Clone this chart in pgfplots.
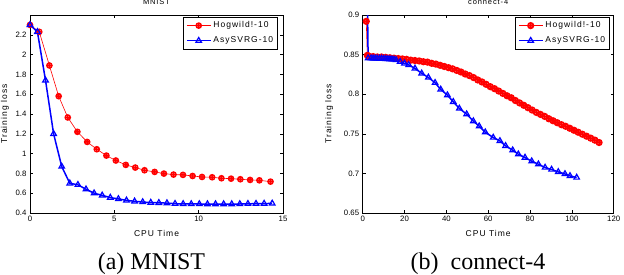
\documentclass[border=0pt]{standalone}
\usepackage{fontspec}
\setmainfont{Liberation Sans}
\newfontfamily\capfont{Liberation Serif}
\newfontfamily\mfont[LetterSpace=12]{Liberation Sans}
\usepackage{pgfplots}
\pgfplotsset{compat=1.18}

\pgfplotsset{mat/.style={
  scale only axis, width=253pt, height=198pt,
  axis line style={line width=0.7pt}, tick style={line width=0.6pt, black}, major tick length=3pt,
  /pgf/number format/assume math mode=true,
  ticklabel style={font=\fontsize{7.8}{8}\selectfont},
  xlabel style={font=\mfont\fontsize{8.5}{9}\selectfont, at={(axis description cs:0.5,-0.1035)}, anchor=center},
  title style={font=\mfont\fontsize{7.5}{8}\selectfont, at={(axis description cs:0.5,1.036)}, anchor=center},
  legend style={font=\mfont\fontsize{8.5}{9}\selectfont, cells={anchor=west}, inner sep=2.5pt, row sep=3.5pt, draw=black, line width=0.6pt},
  legend image code/.code={\draw[mark repeat=2, mark phase=2, #1] plot coordinates {(0cm,0cm) (0.42cm,0cm) (0.84cm,0cm)};},
  redst/.style={color=red, line width=0.6pt, mark=oplus, mark size=2.6pt, mark options={line width=1.4pt, solid}},
  bluest/.style={color=blue, line width=1.5pt, mark=triangle, mark size=3.2pt, mark options={line width=1.2pt, fill=white, solid}},
}}

\begin{document}
\begin{tikzpicture}
\useasboundingbox (0pt,0pt) rectangle (624pt,274pt);

\begin{axis}[mat, at={(30pt,61pt)}, anchor=south west,
  xmin=0, xmax=15, ymin=0.4, ymax=2.4,
  xtick={0,5,10,15}, ytick={0.4,0.6,0.8,1,1.2,1.4,1.6,1.8,2,2.2},
  title={MNIST}, xlabel={CPU Time}, ylabel={Training loss},
  ylabel style={font=\mfont\fontsize{8.5}{9}\selectfont, at={(axis description cs:-0.099,0.5)}, anchor=center},
  legend style={at={(0.98,0.99)}, anchor=north east}]
\addplot[redst] coordinates {
(0,2.3) (0.55,2.23) (1.15,1.89) (1.70,1.58) (2.24,1.365) (2.81,1.22) (3.39,1.118)
(3.96,1.044) (4.53,0.98) (5.09,0.93) (5.68,0.886) (6.24,0.859) (6.79,0.832)
(7.39,0.815) (7.94,0.798) (8.51,0.788) (9.07,0.785) (9.64,0.774) (10.2,0.764)
(10.8,0.761) (11.35,0.751) (11.92,0.747) (12.47,0.741) (13.05,0.734) (13.6,0.73) (14.26,0.717)};
\addlegendentry{Hogwild!-10}
\addplot[bluest] coordinates {
(0,2.3) (0.44,2.23) (0.92,1.74) (1.40,1.20) (1.88,0.87) (2.36,0.70) (2.84,0.685)
(3.32,0.64) (3.80,0.60) (4.28,0.578) (4.76,0.556) (5.24,0.542) (5.72,0.528)
(6.20,0.518) (6.68,0.511) (7.16,0.505) (7.64,0.503) (8.12,0.500) (8.60,0.494)
(9.08,0.492) (9.56,0.491) (10.04,0.491) (10.52,0.490) (11.00,0.490) (11.48,0.490)
(11.96,0.490) (12.44,0.491) (12.92,0.493) (13.40,0.494) (13.88,0.495) (14.36,0.497)};
\addlegendentry{AsySVRG-10}
\end{axis}

\begin{axis}[mat, at={(362.7pt,61pt)}, anchor=south west, width=251pt,
  xmin=0, xmax=120, ymin=0.65, ymax=0.9,
  xtick={0,20,40,60,80,100,120}, ytick={0.65,0.7,0.75,0.8,0.85,0.9},
  title={connect-4}, xlabel={CPU Time}, ylabel={Training loss},
  ylabel style={font=\mfont\fontsize{8.5}{9}\selectfont, at={(axis description cs:-0.134,0.5)}, anchor=center},
  legend style={at={(0.985,0.99)}, anchor=north east}]
\addplot[redst, mark size=2.8pt, mark options={line width=1.6pt}] coordinates {
(1.7,0.892) (2.2,0.849) (3,0.848) (5,0.8475) (7,0.847) (9,0.847) (11,0.8465) (13,0.846)
(15,0.8455) (17,0.845) (19,0.8445) (21,0.844) (23,0.843) (25,0.8425) (27,0.842)
(29,0.841) (31,0.8405) (33,0.839) (35,0.838) (37,0.8365) (39,0.835) (41,0.8335)
(43,0.832) (45,0.830) (47,0.828) (49,0.8255) (51,0.8235) (53,0.821) (55,0.818)
(57,0.8155) (59,0.8125) (61,0.8095) (63,0.807) (65,0.804) (67,0.801) (69,0.798)
(71,0.7955) (73,0.792) (75,0.789) (77,0.786) (79,0.783) (81,0.780) (83,0.777)
(85,0.7745) (87,0.772) (89,0.769) (91,0.7665) (93,0.764) (95,0.7615) (97,0.7595)
(99,0.757) (101,0.7545) (103,0.752) (105,0.7495) (107,0.747) (109,0.7445) (111,0.742) (113,0.739)};
\addlegendentry{Hogwild!-10}
\addplot[bluest] coordinates {
(2.1,0.95) (2.6,0.8455) (4,0.8455) (5,0.8453) (6,0.8452) (7,0.8452) (8,0.845) (9,0.845)
(10,0.8448) (11,0.8447) (12,0.8445) (13,0.8443) (14,0.8441) (15,0.8438) (16,0.8432)
(17.9,0.841) (20,0.839) (22,0.837) (25,0.8326) (28.2,0.8263) (31.4,0.8212) (34.6,0.8144)
(37.3,0.806) (40.5,0.7988) (43.3,0.7904) (46.2,0.782) (49.7,0.7748) (52.9,0.766)
(55.7,0.7596) (58.6,0.752) (62.4,0.7453) (65.6,0.741) (68.3,0.7348) (71.7,0.7293)
(74.4,0.7242) (77.6,0.72) (80.8,0.7154) (84,0.7116) (87.2,0.7074) (90.3,0.7049)
(93.5,0.7019) (96.7,0.6993) (99.1,0.6968) (102.3,0.6948)};
\addlegendentry{AsySVRG-10}
\end{axis}

\node[font=\capfont\fontsize{24}{24}\selectfont, anchor=base] at (151.5pt,4.5pt) {(a) MNIST};
\node[font=\capfont\fontsize{24}{24}\selectfont, anchor=base] at (478pt,4.5pt) {(b)\ \ connect-4};
\end{tikzpicture}
\end{document}
